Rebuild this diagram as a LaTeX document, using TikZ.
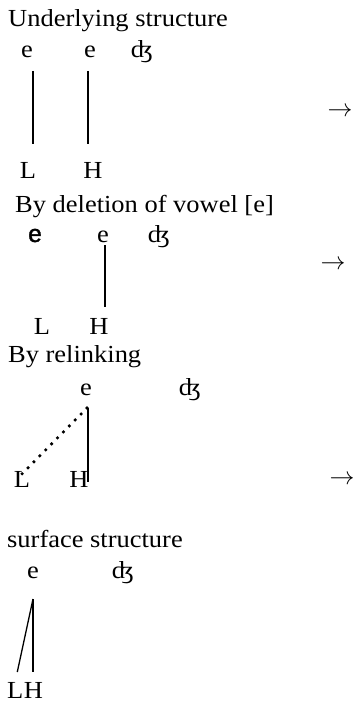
\documentclass[tikz,border=0pt]{standalone}
\usepackage{fontspec}
\setmainfont{Liberation Serif}[FakeStretch=1.08]
\usepackage{tikz}
\usetikzlibrary{positioning,calc}

\begin{document}
\begin{tikzpicture}[
    x=1pt, y=-1pt,
    font=\fontsize{24.5}{28}\selectfont,
    every node/.style={inner sep=0pt},
    seg/.style={anchor=base},
    title/.style={anchor=base west},
    step arrow/.style={font=\fontsize{27}{30}\selectfont},
    assoc/.style={line width=1.3pt},
    relink/.style={line width=3.6pt, line cap=round, dash pattern=on 0pt off 8.4pt}
]
\useasboundingbox (0,0) rectangle (355,703);

% Underlying structure
\node[title] (titleA) at (8,27) {Underlying structure};
\node[seg] (eA1) at (27,58) {e};
\node[seg] (eA2) at (90,58) {e};
\node[seg] (dzhA) at (142,58) {ʤ};
\node[seg] (lowA) at (28,179) {L};
\node[seg] (highA) at (93,179) {H};
\node[step arrow] (arrowA) at (340,112) {$\rightarrow$};

\draw[assoc] ($(eA1.base)+(6,13)$) -- ($(lowA.base)+(5,-35)$);
\draw[assoc] ($(eA2.base)+(-2,13)$) -- ($(highA.base)+(-5,-35)$);

% Deletion of vowel
\node[title] (titleB) at (15,212) {By deletion of vowel [e]};
\node[seg] (eB1) at (35,242) {\fontspec{Liberation Sans}[FakeBold=1.5]e};
\node[seg] (eB2) at (103,242) {e};
\node[seg] (dzhB) at (159,242) {ʤ};
\node[seg] (lowB) at (42,334) {L};
\node[seg] (highB) at (99,334) {H};
\node[step arrow] (arrowB) at (333,265) {$\rightarrow$};

\draw[assoc] ($(eB2.base)+(2,3)$) -- ($(highB.base)+(6,-27)$);

% Relinking
\node[title] (titleC) at (8,362) {By relinking};
\node[seg] (eC) at (86,395) {e};
\node[seg] (dzhC) at (190,395) {ʤ};
\node[seg] (lowC) at (22,487) {L};
\node[seg] (highC) at (79,487) {H};
\node[step arrow] (arrowC) at (342,480) {$\rightarrow$};

\draw[assoc] ($(eC.base)+(2,13)$) -- ($(highC.base)+(9,-5)$);
\draw[relink] ($(eC.base)+(1,13)$) -- ($(lowC.base)+(-4,-9)$);

% Surface structure
\node[title] (titleD) at (7,547) {surface structure};
\node[seg] (eD) at (33,578) {e};
\node[seg] (dzhD) at (123,578) {ʤ};
\node[title] (lowD) at (7,698) {L};
\node[title] (highD) at (lowD.base east) {H};

\draw[assoc] ($(eD.base)+(0,21)$) -- ($(eD.base |- highD.base)+(0,-26)$);
\draw[assoc] ($(eD.base)+(0,21)$) -- ($(lowD.base)+(2,-26)$);

\end{tikzpicture}
\end{document}
